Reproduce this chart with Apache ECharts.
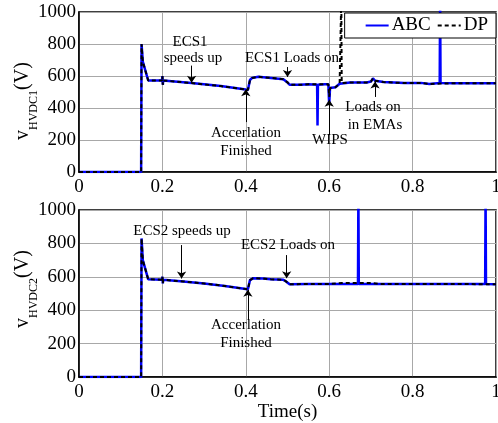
<!DOCTYPE html>
<html>
<head>
<meta charset="utf-8">
<script src="https://cdn.jsdelivr.net/npm/echarts@6/dist/echarts.min.js"></script>
<style>
html, body { margin: 0; padding: 0; background: #fff; }
#main { width: 498px; height: 423px; }
</style>
</head>
<body>
<div id="main"></div>
<script>
// HVDC1 bus voltage (top panel)
var abc1T = [0, 0.149, 0.150, 0.153, 0.166, 0.199, 0.200, 0.201, 0.202, 0.27, 0.34, 0.40, 0.405, 0.410, 0.415, 0.43, 0.46, 0.49, 0.50, 0.505, 0.53, 0.55, 0.571, 0.572, 0.573, 0.59, 0.598, 0.600, 0.602, 0.615, 0.625, 0.65, 0.69, 0.70, 0.705, 0.71, 0.73, 0.78, 0.82, 0.84, 0.865, 0.866, 0.867, 0.9, 1.0];
var abc1V = [0, 0, 800, 690, 572, 572, 600, 545, 572, 556, 537, 515, 512, 575, 588, 595, 588, 580, 560, 545, 545, 548, 546, 290, 546, 548, 548, 420, 525, 530, 552, 560, 560, 565, 585, 570, 562, 556, 557, 550, 556, 1100, 556, 555, 555];
var dp1T = [0, 0.149, 0.150, 0.153, 0.166, 0.199, 0.200, 0.201, 0.202, 0.27, 0.34, 0.40, 0.405, 0.410, 0.415, 0.43, 0.46, 0.49, 0.50, 0.505, 0.53, 0.55, 0.59, 0.598, 0.600, 0.602, 0.615, 0.625, 0.628, 0.629, 0.630, 0.65, 0.69, 0.70, 0.705, 0.71, 0.73, 0.78, 0.82, 0.84, 0.9, 1.0];
var dp1V = [0, 0, 800, 690, 572, 572, 600, 545, 572, 556, 537, 515, 512, 575, 588, 595, 588, 580, 560, 545, 545, 548, 548, 548, 470, 525, 530, 552, 555, 1100, 556, 560, 560, 565, 585, 570, 562, 556, 557, 550, 555, 555];

// HVDC2 bus voltage (bottom panel)
var abc2T = [0, 0.149, 0.150, 0.153, 0.166, 0.199, 0.200, 0.201, 0.202, 0.25, 0.30, 0.35, 0.40, 0.405, 0.410, 0.418, 0.44, 0.46, 0.49, 0.495, 0.505, 0.55, 0.60, 0.669, 0.670, 0.671, 0.75, 0.9, 0.974, 0.975, 0.976, 1.0];
var abc2V = [0, 0, 830, 700, 585, 583, 600, 560, 582, 572, 560, 545, 527, 525, 580, 592, 590, 585, 582, 575, 555, 557, 557, 557, 1100, 557, 557, 557, 557, 1100, 557, 555];
var dp2T = [0, 0.149, 0.150, 0.153, 0.166, 0.199, 0.200, 0.201, 0.202, 0.25, 0.30, 0.35, 0.40, 0.405, 0.410, 0.418, 0.44, 0.46, 0.49, 0.495, 0.505, 0.55, 0.60, 0.63, 0.70, 0.72, 0.9, 1.0];
var dp2V = [0, 0, 830, 700, 585, 583, 600, 560, 582, 572, 560, 545, 527, 525, 580, 592, 590, 585, 582, 575, 555, 557, 557, 563, 563, 557, 557, 555];

// annotation arrows: [time, from, to]
var arrows1 = [[0.27, 665, 558], [0.50, 656, 594], [0.40, 312, 517], [0.60, 231, 452], [0.71, 469, 566]];
var arrows2 = [[0.246, 790, 590], [0.498, 730, 592], [0.405, 341, 522]];

function pairs(t, v) {
  return t.map(function (x, i) { return [x, v[i]]; });
}
function arrowData(list) {
  return list.map(function (a) {
    return [{ coord: [a[0], a[1]] }, { coord: [a[0], a[2]] }];
  });
}

var font = 'Liberation Serif';
var chart = echarts.init(document.getElementById('main'));

function xAxisCfg(gi, withName) {
  return {
    type: 'value', gridIndex: gi, min: 0, max: 1, interval: 0.2,
    axisLine: { show: true, lineStyle: { color: '#000', width: 1.5 } },
    axisTick: { show: false },
    splitLine: { show: true, lineStyle: { color: '#a8a8a8', width: 1 } },
    axisLabel: { color: '#000', fontFamily: font, fontSize: 19, margin: 6,
      formatter: function (v) { return String(+v.toFixed(1)); } },
    name: withName ? 'Time(s)' : '',
    nameLocation: 'middle', nameGap: 24,
    nameTextStyle: { color: '#000', fontFamily: font, fontSize: 19 }
  };
}
function yAxisCfg(gi) {
  return {
    type: 'value', gridIndex: gi, min: 0, max: 1000, interval: 200,
    axisLine: { show: true, lineStyle: { color: '#000', width: 1.5 } },
    axisTick: { show: false },
    splitLine: { show: true, lineStyle: { color: '#a8a8a8', width: 1 } },
    axisLabel: { color: '#000', fontFamily: font, fontSize: 19, margin: 3,
      formatter: function (v) { return String(v); } }
  };
}
function arrowLine(list) {
  return {
    silent: true,
    symbol: ['none', 'arrow'],
    symbolSize: 7,
    label: { show: false },
    lineStyle: { color: '#000', width: 1, type: 'solid' },
    data: arrowData(list)
  };
}

function note(text, x, y) {
  return {
    type: 'text', x: x, y: y, z: 100,
    style: { text: text, fill: '#000', font: '15px "Liberation Serif"', align: 'center', verticalAlign: 'middle' }
  };
}
function rotText(text, x, y, size) {
  return {
    type: 'text', x: x, y: y, rotation: Math.PI / 2, z: 100,
    style: { text: text, fill: '#000', font: size + 'px "Liberation Serif"', align: 'center', verticalAlign: 'middle' }
  };
}

var option = {
  animation: false,
  backgroundColor: '#fff',
  grid: [
    { left: 79, top: 12, width: 417, height: 160, show: true, borderColor: '#000', borderWidth: 1.5, backgroundColor: 'transparent', outerBoundsMode: 'none', containLabel: false },
    { left: 79, top: 210, width: 417, height: 167, show: true, borderColor: '#000', borderWidth: 1.5, backgroundColor: 'transparent', outerBoundsMode: 'none', containLabel: false }
  ],
  xAxis: [xAxisCfg(0, false), xAxisCfg(1, true)],
  yAxis: [yAxisCfg(0), yAxisCfg(1)],
  legend: {
    data: ['ABC', 'DP'],
    right: 2, top: 13,
    orient: 'horizontal',
    backgroundColor: '#fff',
    borderColor: '#000', borderWidth: 1,
    padding: [3, 8, 3, 20],
    itemWidth: 23, itemHeight: 12, itemGap: 6,
    itemStyle: { opacity: 0 },
    textStyle: { color: '#000', fontFamily: font, fontSize: 19, padding: [0, 0, 0, -2] }
  },
  series: [
    { name: 'ABC', type: 'line', xAxisIndex: 0, yAxisIndex: 0, data: pairs(abc1T, abc1V), symbol: 'none', lineStyle: { color: '#0000ff', width: 2.5 }, itemStyle: { color: '#0000ff' }, z: 2 },
    { name: 'DP', type: 'line', xAxisIndex: 0, yAxisIndex: 0, data: pairs(dp1T, dp1V), symbol: 'none', lineStyle: { color: '#000', width: 2, type: [4, 3] }, itemStyle: { color: '#000' }, z: 3, markLine: arrowLine(arrows1) },
    { name: 'ABC', type: 'line', xAxisIndex: 1, yAxisIndex: 1, data: pairs(abc2T, abc2V), symbol: 'none', lineStyle: { color: '#0000ff', width: 2.5 }, itemStyle: { color: '#0000ff' }, z: 2 },
    { name: 'DP', type: 'line', xAxisIndex: 1, yAxisIndex: 1, data: pairs(dp2T, dp2V), symbol: 'none', lineStyle: { color: '#000', width: 2, type: [4, 3] }, itemStyle: { color: '#000' }, z: 3, markLine: arrowLine(arrows2) }
  ],
  graphic: [
    note('ECS1', 190, 42),
    note('speeds up', 193, 58),
    note('ECS1 Loads on', 292, 58),
    note('Accerlation', 246, 133),
    note('Finished', 246, 151),
    note('WIPS', 330, 140),
    note('Loads on', 373, 107),
    note('in EMAs', 375, 125),
    note('ECS2 speeds up', 182, 231),
    note('ECS2 Loads on', 288, 245),
    note('Accerlation', 246, 325),
    note('Finished', 246, 343),
    rotText('v', 23, 135, 20),
    rotText('HVDC1', 34, 110, 12),
    rotText('(V)', 23, 76, 20),
    rotText('v', 23, 323, 20),
    rotText('HVDC2', 34, 298, 12),
    rotText('(V)', 23, 264, 20)
  ]
};
chart.setOption(option);
</script>
</body>
</html>
